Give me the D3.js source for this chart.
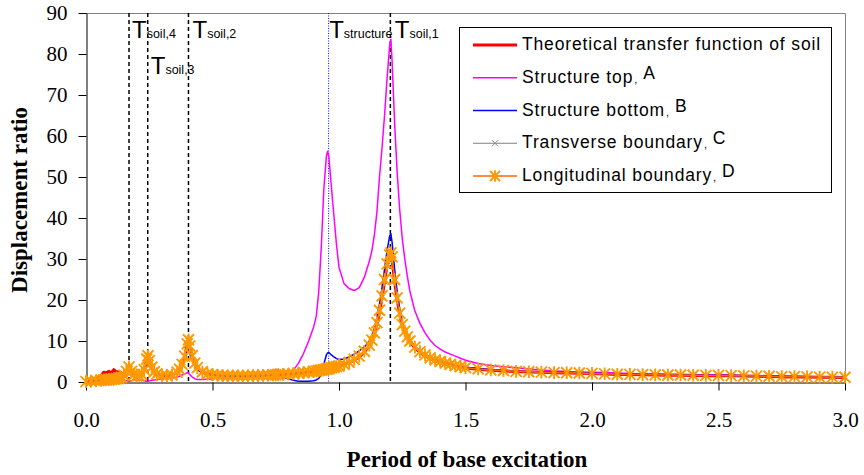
<!DOCTYPE html>
<html>
<head>
<meta charset="utf-8">
<script src="https://cdn.jsdelivr.net/npm/d3@7"></script>
<style>
  body { margin: 0; background: #fff; }
  svg { display: block; }
</style>
</head>
<body>
<svg id="chart" width="864" height="475"></svg>
<script>
// Period of base excitation (s)
const periods = [
  0.00, 0.02, 0.04, 0.06, 0.07, 0.08, 0.09, 0.10, 0.11, 0.12,
  0.13, 0.14, 0.15, 0.16, 0.17, 0.18, 0.19, 0.20, 0.21, 0.22,
  0.23, 0.24, 0.245, 0.25, 0.26, 0.27, 0.28, 0.30, 0.32, 0.34,
  0.36, 0.37, 0.38, 0.39, 0.40, 0.405, 0.41, 0.42, 0.43, 0.44,
  0.46, 0.48, 0.50, 0.52, 0.54, 0.56, 0.58, 0.60, 0.62, 0.64,
  0.66, 0.68, 0.70, 0.72, 0.74, 0.75, 0.76, 0.78, 0.80, 0.82,
  0.84, 0.86, 0.88, 0.90, 0.91, 0.92, 0.93, 0.94, 0.95, 0.955,
  0.96, 0.97, 0.98, 0.99, 1.00, 1.02, 1.04, 1.06, 1.08, 1.10,
  1.12, 1.13, 1.14, 1.15, 1.16, 1.17, 1.18, 1.19, 1.20, 1.205,
  1.21, 1.22, 1.23, 1.24, 1.25, 1.26, 1.27, 1.28, 1.30, 1.32,
  1.34, 1.36, 1.38, 1.40, 1.42, 1.44, 1.46, 1.48, 1.50, 1.55,
  1.60, 1.65, 1.70, 1.75, 1.80, 1.85, 1.90, 1.95, 2.00, 2.05,
  2.10, 2.15, 2.20, 2.25, 2.30, 2.35, 2.40, 2.45, 2.50, 2.55,
  2.60, 2.65, 2.70, 2.75, 2.80, 2.85, 2.90, 2.95, 3.00
];

// Theoretical transfer function of soil
const soilTheory = [
  0.1, 0.3, 0.6, 1.6, 2.4, 2.2, 2.6, 2.2, 3.0, 2.4,
  2.6, 2.2, 1.9, 2.6, 3.6, 2.5, 1.7, 1.4, 1.5, 1.8,
  2.8, 5.4, 6.3, 5.0, 3.4, 2.4, 1.9, 1.5, 1.4, 1.6,
  2.3, 3.0, 4.2, 6.2, 9.2, 10.0, 8.5, 6.0, 4.4, 3.4,
  2.4, 1.9, 1.7, 1.55, 1.45, 1.4, 1.4, 1.4, 1.4, 1.45,
  1.45, 1.5, 1.5, 1.55, 1.6, 1.65, 1.7, 1.75, 1.85, 1.95,
  2.05, 2.2, 2.35, 2.5, 2.6, 2.7, 2.8, 2.9, 3.0, 3.1,
  3.2, 3.35, 3.5, 3.65, 3.8, 4.2, 4.7, 5.3, 6.1, 7.3,
  8.8, 9.9, 11.6, 14.0, 17.0, 20.5, 24.5, 28.5, 30.8, 31.0,
  29.8, 24.5, 20.0, 16.5, 13.8, 12.2, 10.8, 9.8, 8.3, 7.2,
  6.4, 5.7, 5.2, 4.8, 4.4, 4.1, 3.85, 3.6, 3.4, 3.1,
  2.85, 2.7, 2.55, 2.45, 2.35, 2.25, 2.2, 2.15, 2.05, 1.95,
  1.85, 1.8, 1.75, 1.7, 1.65, 1.65, 1.6, 1.55, 1.55, 1.5,
  1.45, 1.4, 1.35, 1.25, 1.25, 1.2, 1.15, 1.15, 1.1
];

// Structure top (A)
const structureTop = [
  0.1, 0.2, 0.3, 0.4, 0.45, 0.5, 0.55, 0.6, 0.6, 0.6,
  0.6, 0.6, 0.5, 0.3, 0.2, 0.3, 0.4, 0.5, 0.5, 0.4,
  0.3, 0.2, 0.2, 0.3, 0.4, 0.5, 0.6, 0.8, 0.9, 1.0,
  1.2, 1.4, 1.7, 2.0, 2.3, 2.2, 1.8, 1.2, 0.8, 0.6,
  0.6, 0.7, 0.8, 0.9, 1.0, 1.0, 1.1, 1.1, 1.2, 1.2,
  1.3, 1.3, 1.4, 1.6, 2.6, 3.1, 2.7, 2.3, 2.3, 2.9,
  4.6, 7.0, 10.0, 13.5, 16.0, 22.0, 33.0, 47.0, 55.0, 56.3,
  55.0, 47.5, 40.5, 33.5, 28.0, 24.0, 22.8, 22.3, 23.0, 25.5,
  29.5, 32.0, 36.0, 41.5, 50.0, 57.0, 65.0, 74.0, 82.0, 83.6,
  78.0, 63.0, 51.0, 42.0, 35.0, 30.0, 25.8, 22.2, 17.3, 14.3,
  12.0, 10.2, 8.9, 8.0, 7.3, 6.8, 6.3, 5.8, 5.3, 4.5,
  4.0, 3.7, 3.5, 3.2, 2.9, 2.7, 2.55, 2.45, 2.35, 2.3,
  2.2, 2.1, 2.0, 1.95, 1.9, 1.85, 1.8, 1.75, 1.7, 1.6,
  1.55, 1.5, 1.45, 1.4, 1.35, 1.3, 1.25, 1.2, 1.15
];

// Structure bottom (B)
const structureBottom = [
  0.1, 0.2, 0.3, 0.4, 0.45, 0.5, 0.55, 0.6, 0.65, 0.7,
  0.8, 1.0, 1.4, 2.3, 3.2, 2.3, 1.7, 1.4, 1.5, 1.8,
  2.6, 4.8, 5.6, 4.6, 3.2, 2.3, 1.9, 1.5, 1.4, 1.6,
  2.2, 2.8, 3.8, 5.4, 7.6, 8.0, 7.0, 5.2, 3.9, 3.0,
  2.2, 1.8, 1.6, 1.5, 1.45, 1.4, 1.4, 1.4, 1.4, 1.4,
  1.4, 1.4, 1.4, 1.4, 1.35, 1.3, 1.25, 1.1, 0.8, 0.4,
  0.2, 0.2, 0.2, 0.3, 0.5, 0.9, 1.8, 4.3, 6.6, 7.1,
  7.2, 6.6, 6.1, 5.7, 5.5, 5.6, 6.1, 6.8, 7.6, 8.5,
  10.0, 11.3, 13.2, 15.8, 19.0, 23.0, 27.5, 32.0, 35.6, 36.2,
  34.0, 27.5, 22.0, 17.8, 14.7, 12.8, 11.3, 10.2, 8.7, 7.6,
  6.8, 6.1, 5.6, 5.2, 4.8, 4.5, 4.2, 3.9, 3.6, 3.3,
  3.0, 2.85, 2.65, 2.55, 2.45, 2.35, 2.3, 2.25, 2.15, 2.05,
  1.95, 1.9, 1.85, 1.8, 1.75, 1.75, 1.7, 1.65, 1.65, 1.6,
  1.55, 1.5, 1.45, 1.35, 1.35, 1.3, 1.25, 1.25, 1.2
];

// Transverse boundary (C)
const transverseBoundary = [
  0.1, 0.2, 0.3, 0.45, 0.5, 0.55, 0.6, 0.65, 0.7, 0.8,
  0.9, 1.1, 1.5, 2.5, 3.5, 2.5, 1.8, 1.5, 1.6, 1.9,
  2.9, 5.4, 6.2, 5.0, 3.5, 2.5, 2.0, 1.6, 1.5, 1.7,
  2.4, 3.0, 4.2, 6.1, 9.0, 10.0, 8.6, 6.2, 4.5, 3.4,
  2.5, 2.0, 1.8, 1.65, 1.55, 1.5, 1.5, 1.5, 1.5, 1.5,
  1.55, 1.55, 1.6, 1.65, 1.7, 1.75, 1.8, 1.85, 1.95, 2.05,
  2.15, 2.3, 2.45, 2.6, 2.7, 2.8, 2.9, 3.0, 3.1, 3.2,
  3.3, 3.4, 3.55, 3.7, 3.85, 4.25, 4.75, 5.4, 6.2, 7.4,
  8.9, 10.0, 11.8, 14.2, 17.2, 20.6, 24.5, 28.3, 30.5, 31.0,
  30.0, 24.6, 20.2, 16.6, 13.9, 12.3, 10.9, 9.9, 8.4, 7.3,
  6.5, 5.8, 5.3, 4.9, 4.5, 4.2, 3.95, 3.7, 3.45, 3.15,
  2.9, 2.75, 2.6, 2.5, 2.4, 2.3, 2.25, 2.2, 2.1, 2.0,
  1.9, 1.85, 1.8, 1.75, 1.7, 1.7, 1.65, 1.6, 1.6, 1.55,
  1.5, 1.45, 1.4, 1.3, 1.3, 1.25, 1.2, 1.2, 1.15
];

// Longitudinal boundary (D)
const longitudinalBoundary = [
  0.1, 0.2, 0.3, 0.45, 0.5, 0.55, 0.6, 0.65, 0.7, 0.8,
  0.9, 1.1, 1.6, 2.6, 3.7, 2.6, 1.8, 1.5, 1.6, 1.9,
  3.0, 5.6, 6.4, 5.2, 3.6, 2.5, 2.0, 1.6, 1.5, 1.7,
  2.4, 3.1, 4.3, 6.3, 9.3, 10.3, 8.8, 6.4, 4.6, 3.5,
  2.5, 2.0, 1.8, 1.65, 1.55, 1.5, 1.5, 1.5, 1.5, 1.5,
  1.55, 1.55, 1.6, 1.65, 1.7, 1.75, 1.8, 1.85, 1.95, 2.05,
  2.15, 2.3, 2.45, 2.6, 2.7, 2.8, 2.9, 3.0, 3.15, 3.2,
  3.3, 3.45, 3.6, 3.75, 3.9, 4.3, 4.8, 5.5, 6.3, 7.5,
  9.0, 10.2, 12.0, 14.5, 17.5, 21.0, 25.0, 28.8, 31.0, 31.5,
  30.5, 25.0, 20.5, 16.8, 14.0, 12.4, 11.0, 10.0, 8.5, 7.4,
  6.6, 5.9, 5.4, 5.0, 4.6, 4.3, 4.0, 3.75, 3.5, 3.2,
  2.95, 2.8, 2.6, 2.5, 2.4, 2.3, 2.25, 2.2, 2.1, 2.0,
  1.9, 1.85, 1.8, 1.75, 1.7, 1.7, 1.65, 1.6, 1.6, 1.55,
  1.5, 1.45, 1.4, 1.3, 1.3, 1.25, 1.2, 1.2, 1.15
];

// Natural periods marked on the chart
const soilModePeriods = [1.203, 0.405, 0.244, 0.17];
const soilModeLabels = ["soil,1", "soil,2", "soil,3", "soil,4"];
const structurePeriod = 0.959;

// Axis ticks
const xTicks = [0, 0.5, 1.0, 1.5, 2.0, 2.5, 3.0];
const yTicks = [0, 10, 20, 30, 40, 50, 60, 70, 80, 90];

// ---------------------------------------------------------------------
const W = 864, H = 475;
const plot = { left: 86, right: 845, top: 13, bottom: 382 };
const serif = "'Liberation Serif','Times New Roman',Times,serif";
const sans = "'Liberation Sans',Arial,Helvetica,sans-serif";

const x = d3.scaleLinear().domain([0, 3]).range([plot.left, plot.right]);
const y = d3.scaleLinear().domain([0, 90]).range([plot.bottom, plot.top]);

const svg = d3.select("#chart");
svg.append("rect").attr("width", W).attr("height", H).attr("fill", "#fff");

// Plot area frame (top and right edges)
svg.append("path")
  .attr("d", `M${plot.left},${plot.top + 0.5}H${plot.right + 0.5}V${plot.bottom}`)
  .attr("fill", "none").attr("stroke", "#808080").attr("stroke-width", 1);

// Axes
const yAxisG = svg.append("g")
  .attr("transform", `translate(${plot.left + 0.5},0)`)
  .call(d3.axisLeft(y).tickValues(yTicks).tickSize(8).tickSizeOuter(0)
    .tickPadding(11).tickFormat(d3.format("d")));
yAxisG.attr("font-family", serif).attr("font-size", 21);
yAxisG.selectAll("text").attr("fill", "#000");
yAxisG.selectAll("line,path").attr("stroke", "#000");

const xAxisG = svg.append("g")
  .attr("transform", `translate(0,${plot.bottom + 0.5})`)
  .call(d3.axisBottom(x).tickValues(xTicks).tickSize(8).tickSizeOuter(0)
    .tickPadding(22).tickFormat(d3.format(".1f")));
xAxisG.attr("font-family", serif).attr("font-size", 21);
xAxisG.selectAll("text").attr("fill", "#000");
xAxisG.selectAll("line,path").attr("stroke", "#000");

// Axis titles
svg.append("text")
  .attr("x", 467).attr("y", 467)
  .attr("text-anchor", "middle")
  .attr("font-family", serif).attr("font-weight", "bold").attr("font-size", 23)
  .text("Period of base excitation");

svg.append("text")
  .attr("transform", "translate(27,200) rotate(-90)")
  .attr("text-anchor", "middle")
  .attr("font-family", serif).attr("font-weight", "bold").attr("font-size", 23)
  .text("Displacement ratio");

// Natural period markers
const modeG = svg.append("g");
soilModePeriods.forEach((p) => {
  modeG.append("line")
    .attr("x1", x(p)).attr("x2", x(p))
    .attr("y1", plot.top).attr("y2", plot.bottom)
    .attr("stroke", "#000").attr("stroke-width", 1.5)
    .attr("stroke-dasharray", "4,3");
});
modeG.append("line")
  .attr("x1", x(structurePeriod)).attr("x2", x(structurePeriod))
  .attr("y1", plot.top).attr("y2", plot.bottom)
  .attr("stroke", "#0000FF").attr("stroke-width", 1)
  .attr("stroke-dasharray", "1,1.5");

function periodLabel(px, baseline, sub) {
  const t = modeG.append("text")
    .attr("x", px).attr("y", baseline)
    .attr("font-family", sans).attr("fill", "#000");
  t.append("tspan").attr("font-size", 24).text("T");
  t.append("tspan").attr("font-size", 12.5).text(sub);
}
periodLabel(x(soilModePeriods[3]) + 3, 38, soilModeLabels[3]);
periodLabel(x(soilModePeriods[2]) + 3, 74, soilModeLabels[2]);
periodLabel(x(soilModePeriods[1]) + 4, 38, soilModeLabels[1]);
periodLabel(x(structurePeriod) + 0.5, 38, "structure");
periodLabel(x(soilModePeriods[0]) + 4.5, 38, soilModeLabels[0]);

// Series
const lineGen = d3.line().x((d, i) => x(periods[i])).y(d => y(d));

const series = [
  { name: "Theoretical transfer function of soil", tag: null, values: soilTheory,
    color: "#FF0000", width: 3, marker: null },
  { name: "Structure top", tag: "A", values: structureTop,
    color: "#FF00FF", width: 1.5, marker: null },
  { name: "Structure bottom", tag: "B", values: structureBottom,
    color: "#0000FF", width: 1.5, marker: null },
  { name: "Transverse boundary", tag: "C", values: transverseBoundary,
    color: "#808080", width: 1, marker: "cross", markerColor: "#8C8C8C", markerSize: 3, markerWidth: 1 },
  { name: "Longitudinal boundary", tag: "D", values: longitudinalBoundary,
    color: "#FF6600", width: 1.5, marker: "asterisk", markerColor: "#FF9900", markerSize: 5.5, markerWidth: 1.9 }
];

function markerPath(kind, r) {
  if (kind === "cross") return `M${-r},${-r}L${r},${r}M${-r},${r}L${r},${-r}`;
  return `M${-r},${-r}L${r},${r}M${-r},${r}L${r},${-r}M0,${-r * 1.15}L0,${r * 1.15}`;
}

const seriesG = svg.append("g");
series.forEach(s => {
  const g = seriesG.append("g");
  g.append("path")
    .attr("d", lineGen(s.values))
    .attr("fill", "none").attr("stroke", s.color)
    .attr("stroke-width", s.width).attr("stroke-linejoin", "round");
  if (s.marker) {
    g.selectAll("path.mk").data(s.values).join("path")
      .attr("class", "mk")
      .attr("transform", (d, i) => `translate(${x(periods[i])},${y(d)})`)
      .attr("d", markerPath(s.marker, s.markerSize))
      .attr("fill", "none").attr("stroke", s.markerColor)
      .attr("stroke-width", s.markerWidth);
  }
});

// Legend
const legend = svg.append("g");
legend.append("rect")
  .attr("x", 459.5).attr("y", 27.5).attr("width", 372).attr("height", 165)
  .attr("fill", "#fff").attr("stroke", "#000").attr("stroke-width", 1);

series.forEach((s, i) => {
  const cy = 45 + i * 32.75;
  legend.append("line")
    .attr("x1", 473).attr("x2", 517).attr("y1", cy).attr("y2", cy)
    .attr("stroke", s.color).attr("stroke-width", s.width);
  if (s.marker) {
    legend.append("path")
      .attr("transform", `translate(495,${cy})`)
      .attr("d", markerPath(s.marker, s.marker === "asterisk" ? 5 : 3))
      .attr("fill", "none").attr("stroke", s.markerColor)
      .attr("stroke-width", s.markerWidth);
  }
  const t = legend.append("text")
    .attr("x", 522).attr("y", cy + 5)
    .attr("font-family", sans).attr("font-size", 17.5)
    .attr("letter-spacing", 0.85).attr("fill", "#000");
  t.append("tspan").text(s.name);
  if (s.tag) {
    t.append("tspan").attr("font-size", 11).attr("dx", 1).text(",");
    t.append("tspan").attr("dx", 5).attr("dy", -4).text(s.tag);
  }
});
</script>
</body>
</html>
